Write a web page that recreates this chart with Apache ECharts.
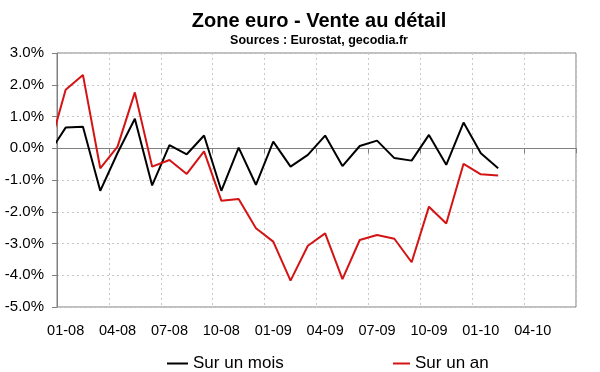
<!DOCTYPE html>
<html><head><meta charset="utf-8">
<script src="https://cdn.jsdelivr.net/npm/echarts@6/dist/echarts.min.js"></script>
<style>html,body{margin:0;padding:0;background:#fff}#c{width:600px;height:372px}</style>
</head><body><div id="c"></div>
<script>
// Data months (first one, 12-07, lies just left of the plot and is clipped)
const dataMonths = ['12-07','01-08','02-08','03-08','04-08','05-08','06-08','07-08','08-08','09-08','10-08','11-08','12-08',
  '01-09','02-09','03-09','04-09','05-09','06-09','07-09','08-09','09-09','10-09','11-09','12-09','01-10','02-10'];
const surUnMois = [-0.19, 0.65, 0.68, -1.34, -0.15, 0.93, -1.17, 0.10, -0.19, 0.40, -1.34, 0.02, -1.15,
  0.21, -0.58, -0.21, 0.40, -0.56, 0.07, 0.24, -0.31, -0.39, 0.42, -0.52, 0.81, -0.16, -0.63];
const surUnAn = [-0.10, 1.84, 2.31, -0.63, 0.05, 1.76, -0.58, -0.37, -0.81, -0.10, -1.65, -1.60, -2.52,
  -2.94, -4.17, -3.07, -2.68, -4.12, -2.89, -2.73, -2.85, -3.59, -1.84, -2.37, -0.49, -0.82, -0.86];
// Axis categories (labels shown every third month)
const axisMonths = ['01-08','02-08','03-08','04-08','05-08','06-08','07-08','08-08','09-08','10-08','11-08','12-08',
  '01-09','02-09','03-09','04-09','05-09','06-09','07-09','08-09','09-09','10-09','11-09','12-09',
  '01-10','02-10','03-10','04-10','05-10','06-10'];
const seriesNames = ['Sur un mois', 'Sur un an'];

function monthPos(m) { // position in month units from start of 01-08, centre of month
  const mm = parseInt(m.slice(0,2),10), yy = parseInt(m.slice(3),10);
  return (yy - 8) * 12 + (mm - 1) + 0.5;
}
const toPairs = vals => vals.map((v,i) => [monthPos(dataMonths[i]), v]);

const FONT = 'Liberation Sans, Arial, sans-serif';
const chart = echarts.init(document.getElementById('c'), null, {renderer:'canvas'});
chart.setOption({
  animation: false,
  backgroundColor: '#fff',
  title: {
    text: 'Zone euro - Vente au détail',
    subtext: 'Sources : Eurostat, gecodia.fr',
    left: 319, top: 11, textAlign: 'center', itemGap: 3, padding: 0,
    textStyle: {fontFamily: FONT, fontSize: 20, fontWeight: 'bold', color: '#000'},
    subtextStyle: {fontFamily: FONT, fontSize: 12.5, fontWeight: 'bold', color: '#000'}
  },
  legend: [
    {data: [seriesNames[0]], left: 167, top: 355, padding: 0, icon: 'rect', itemWidth: 21, itemHeight: 2,
     textStyle: {fontFamily: FONT, fontSize: 17, color: '#000'}},
    {data: [seriesNames[1]], left: 393, top: 355, padding: 0, icon: 'rect', itemWidth: 17, itemHeight: 2,
     textStyle: {fontFamily: FONT, fontSize: 17, color: '#000'}}
  ],
  grid: {left: 57, right: 24, top: 53, bottom: 65, show: true, borderColor: '#808080', borderWidth: 1, containLabel: false},
  xAxis: [
    {type: 'value', min: 0, max: 30, interval: 3, position: 'bottom',
     axisLine: {show: true, onZero: true, lineStyle: {color: '#808080', width: 1}},
     axisTick: {show: true, length: 5, lineStyle: {color: '#808080'}},
     axisLabel: {show: false},
     splitLine: {show: true, lineStyle: {color: '#c8c8c8', type: [2, 3], width: 1}}},
    {type: 'category', data: axisMonths, boundaryGap: true, position: 'bottom',
     axisLine: {show: false, onZero: false}, axisTick: {show: false}, splitLine: {show: false},
     axisLabel: {interval: 2, margin: 16, fontFamily: FONT, fontSize: 14.5, color: '#000'}}
  ],
  yAxis: {type: 'value', min: -5, max: 3, interval: 1,
    axisLine: {show: true, lineStyle: {color: '#808080'}},
    axisTick: {show: true, length: 5, lineStyle: {color: '#808080'}},
    axisLabel: {margin: 13, fontFamily: FONT, fontSize: 15, color: '#000', formatter: v => v.toFixed(1) + '%'},
    splitLine: {show: true, lineStyle: {color: '#c8c8c8', type: [2, 3], width: 1}}},
  series: [
    {name: seriesNames[0], type: 'line', xAxisIndex: 0, data: toPairs(surUnMois), showSymbol: false, clip: true,
     color: '#000000', lineStyle: {width: 2, color: '#000000'}},
    {name: seriesNames[1], type: 'line', xAxisIndex: 0, data: toPairs(surUnAn), showSymbol: false, clip: true,
     color: '#d41414', lineStyle: {width: 2, color: '#d41414'}}
  ]
});
</script></body></html>
